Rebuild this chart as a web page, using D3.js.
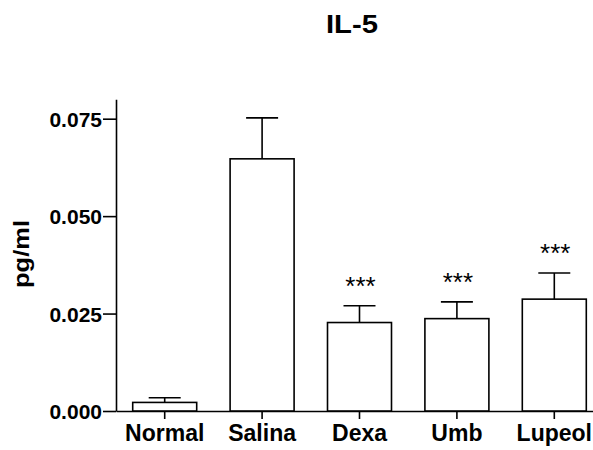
<html lang="en">
  <head>
    <meta charset="UTF-8" />
    <title>IL-5</title>
    <script src="https://d3js.org/d3.v7.min.js"></script>
    <style>
      * {
        margin: 0;
        padding: 0;
      }
      body {
        background: #fff;
      }
      text {
        font-family: "Liberation Sans", Arial, sans-serif;
      }
    </style>
  </head>
  <body>
    <div id="svgContainer"></div>
    <script>
      // values
      let groups = ["Normal", "Salina", "Dexa", "Umb", "Lupeol"];
      let means = [0.0022, 0.0647, 0.0227, 0.0237, 0.0287];
      let sems = [0.0012, 0.0105, 0.0043, 0.0043, 0.0067];
      let marks = ["", "", "***", "***", "***"];
      let yTicks = [0, 0.025, 0.05, 0.075];

      let width = 593;
      let height = 450;

      let svg = d3
        .select("#svgContainer")
        .append("svg")
        .attr("width", width)
        .attr("height", height);

      let scaleY = d3.scaleLinear().domain([0, 0.08]).range([411, 99.2]);

      let scaleX = d3
        .scaleBand()
        .domain(groups)
        .range([116, 603])
        .paddingInner(0.343)
        .paddingOuter(0.1715);

      // y axis
      let axisLeft = d3
        .axisLeft(scaleY)
        .tickValues(yTicks)
        .tickFormat(d3.format(".3f"))
        .tickSize(13)
        .tickPadding(1)
        .tickSizeOuter(0);

      let gy = svg.append("g").attr("transform", "translate(116,0)").call(axisLeft);
      gy.select(".domain").attr("stroke", "#000").attr("stroke-width", 1.6);
      gy.selectAll(".tick line").attr("stroke", "#000").attr("stroke-width", 1.6);
      gy.selectAll(".tick text")
        .attr("fill", "#000")
        .style("font-size", "21px")
        .style("font-weight", "bold")
        .attr("dy", "0.36em");

      // x axis
      let axisBottom = d3.axisBottom(scaleX).tickSize(8).tickPadding(5).tickSizeOuter(0);
      let gx = svg.append("g").attr("transform", "translate(0,411)").call(axisBottom);
      gx.select(".domain").attr("stroke", "#000").attr("stroke-width", 1.6);
      gx.selectAll(".tick line").attr("stroke", "#000").attr("stroke-width", 1.6);
      gx.selectAll(".tick text")
        .attr("fill", "#000")
        .style("font-size", "23px")
        .style("font-weight", "bold")
        .attr("dy", "0.74em");

      // bars
      let bar = svg
        .selectAll("g.bar")
        .data(groups)
        .join("g")
        .attr("class", "bar");

      bar
        .append("line")
        .attr("x1", (d) => scaleX(d) + scaleX.bandwidth() / 2)
        .attr("x2", (d) => scaleX(d) + scaleX.bandwidth() / 2)
        .attr("y1", (d, i) => scaleY(means[i]))
        .attr("y2", (d, i) => scaleY(means[i] + sems[i]))
        .attr("stroke", "#000")
        .attr("stroke-width", 1.6);

      bar
        .append("line")
        .attr("x1", (d) => scaleX(d) + scaleX.bandwidth() / 2 - scaleX.bandwidth() / 4)
        .attr("x2", (d) => scaleX(d) + scaleX.bandwidth() / 2 + scaleX.bandwidth() / 4)
        .attr("y1", (d, i) => scaleY(means[i] + sems[i]))
        .attr("y2", (d, i) => scaleY(means[i] + sems[i]))
        .attr("stroke", "#000")
        .attr("stroke-width", 1.6);

      bar
        .append("rect")
        .attr("x", (d) => scaleX(d))
        .attr("width", scaleX.bandwidth())
        .attr("y", (d, i) => scaleY(means[i]))
        .attr("height", (d, i) => scaleY(0) - scaleY(means[i]))
        .attr("fill", "#fff")
        .attr("stroke", "#000")
        .attr("stroke-width", 1.6);

      // significance stars
      bar
        .append("text")
        .attr("x", (d) => scaleX(d) + scaleX.bandwidth() / 2 + 1)
        .attr("y", (d, i) => scaleY(means[i] + sems[i]) - 11)
        .attr("text-anchor", "middle")
        .style("font-size", "26px")
        .text((d, i) => marks[i]);

      // title
      svg
        .append("text")
        .attr("x", 352)
        .attr("y", 33)
        .attr("text-anchor", "middle")
        .style("font-size", "26px")
        .style("font-weight", "bold")
        .attr("textLength", 52)
        .attr("lengthAdjust", "spacingAndGlyphs")
        .text("IL-5");

      // y label
      svg
        .append("text")
        .attr("transform", "translate(29,254) rotate(-90)")
        .attr("text-anchor", "middle")
        .style("font-size", "22px")
        .style("font-weight", "bold")
        .attr("textLength", 68)
        .attr("lengthAdjust", "spacingAndGlyphs")
        .text("pg/ml");
    </script>
  </body>
</html>
